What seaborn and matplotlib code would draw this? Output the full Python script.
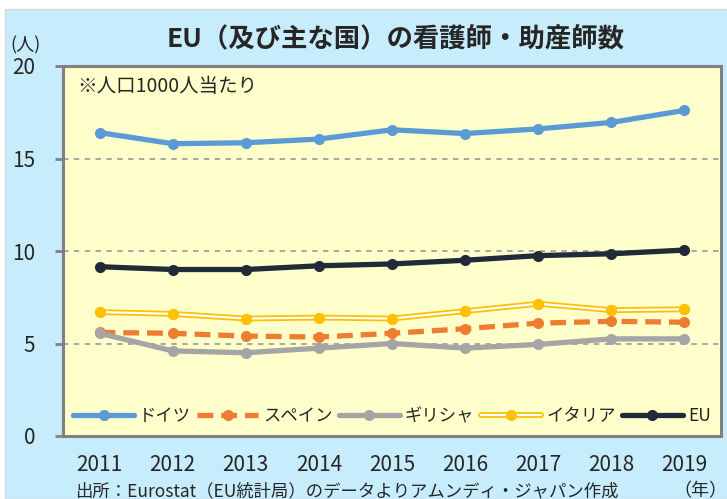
import matplotlib

matplotlib.use("Agg")
import matplotlib.pyplot as plt
import seaborn as sns
from matplotlib.lines import Line2D
from matplotlib.patches import Rectangle

# values (persons per 1000 population)
years = [2011, 2012, 2013, 2014, 2015, 2016, 2017, 2018, 2019]
germany = [16.4, 15.8, 15.85, 16.05, 16.55, 16.35, 16.6, 16.95, 17.6]
spain = [5.6, 5.55, 5.4, 5.35, 5.55, 5.8, 6.1, 6.2, 6.15]
greece = [5.55, 4.6, 4.5, 4.75, 5.0, 4.75, 4.95, 5.25, 5.25]
italy = [6.7, 6.6, 6.35, 6.4, 6.35, 6.75, 7.15, 6.8, 6.85]
eu = [9.15, 9.0, 9.0, 9.2, 9.3, 9.5, 9.75, 9.85, 10.05]
labels = ["ドイツ", "スペイン", "ギリシャ", "イタリア", "EU"]

BLUE_BG = "#C7EDFD"
PLOT_BG = "#FFFFCC"
FRAME = "#808080"
DASH = (3.0, 1.5)

sns.set_style("white")
plt.rcParams["font.family"] = ["Noto Sans CJK JP", "DejaVu Sans"]

fig = plt.figure(figsize=(7.27, 4.99), dpi=100)
fig.patches.append(Rectangle((5 / 727, 0), 1, 1 - 9 / 499, transform=fig.transFigure,
                             facecolor=BLUE_BG, edgecolor="#D8D8D8", lw=1, zorder=-10))
ax = fig.add_axes([63 / 727, 63 / 499, 658 / 727, 370 / 499])
ax.set_facecolor(PLOT_BG)

mk = dict(marker="o", markersize=8, markeredgewidth=0)
sns.lineplot(x=years, y=germany, ax=ax, color="#5B9BD5", lw=3.8, **mk)
sns.lineplot(x=years, y=spain, ax=ax, color="#ED7D31", lw=3.8, dashes=DASH, **mk)
sns.lineplot(x=years, y=greece, ax=ax, color="#A5A5A5", lw=3.8, **mk)
# italy is drawn as a double line: yellow outline, white core
sns.lineplot(x=years, y=italy, ax=ax, color="#FFC000", lw=4.2, **mk)
sns.lineplot(x=years, y=italy, ax=ax, color="white", lw=1.6)
ax.plot(years, italy, ls="none", color="#FFC000", **mk)
sns.lineplot(x=years, y=eu, ax=ax, color="#202A38", lw=3.8, **mk)

ax.set_xlim(2010.5, 2019.5)
ax.set_ylim(0, 20)
ax.set_yticks([0, 5, 10, 15, 20])
ax.set_xticks(years)
ax.set_xticks([y + 0.5 for y in [2010] + years], minor=True)
ax.tick_params(axis="x", which="major", length=0, pad=13, labelsize=15)
ax.tick_params(axis="x", which="minor", length=6, width=2, color=FRAME, direction="out")
ax.tick_params(axis="y", length=6, width=2, color=FRAME, left=True, pad=14, labelsize=15)
for y in [5, 10, 15]:
    ax.axhline(y, color="#A0A0A0", lw=1.3, ls=(0, (3, 3)), zorder=0)
for s in ax.spines.values():
    s.set_color(FRAME)
    s.set_linewidth(2.2)
ax.set_xlabel("")
ax.set_ylabel("")

handles = [
    Line2D([], [], color="#5B9BD5", lw=3.8, **mk),
    Line2D([], [], color="#ED7D31", lw=3.8, dashes=DASH, **mk),
    Line2D([], [], color="#A5A5A5", lw=3.8, **mk),
    (Line2D([], [], color="#FFC000", lw=4.2),
     Line2D([], [], color="white", lw=1.6),
     Line2D([], [], color="#FFC000", ls="none", **mk)),
    Line2D([], [], color="#202A38", lw=3.8, **mk),
]
ax.legend(handles, labels, ncol=5, loc="center", bbox_to_anchor=(0.5, 20 / 370),
          frameon=False, fontsize=12.5, handlelength=3.5, handletextpad=0.3,
          columnspacing=0.35, borderaxespad=0)

ax.text(0.022, 0.945, "※人口1000人当たり", transform=ax.transAxes, fontsize=14,
        ha="left", va="center")
fig.text(396 / 727, 1 - 40 / 499, "EU（及び主な国）の看護師・助産師数", fontsize=19,
         fontweight="bold", ha="center", va="center")
fig.text(26 / 727, 1 - 45 / 499, "(人)", fontsize=13, ha="center", va="center")
fig.text(75 / 727, 1 - 491 / 499, "出所：Eurostat（EU統計局）のデータよりアムンディ・ジャパン作成",
         fontsize=12.5, ha="left", va="center")
fig.text(700 / 727, 1 - 491 / 499, "（年）", fontsize=13, ha="center", va="center")

fig.savefig("out.png", dpi=100)
